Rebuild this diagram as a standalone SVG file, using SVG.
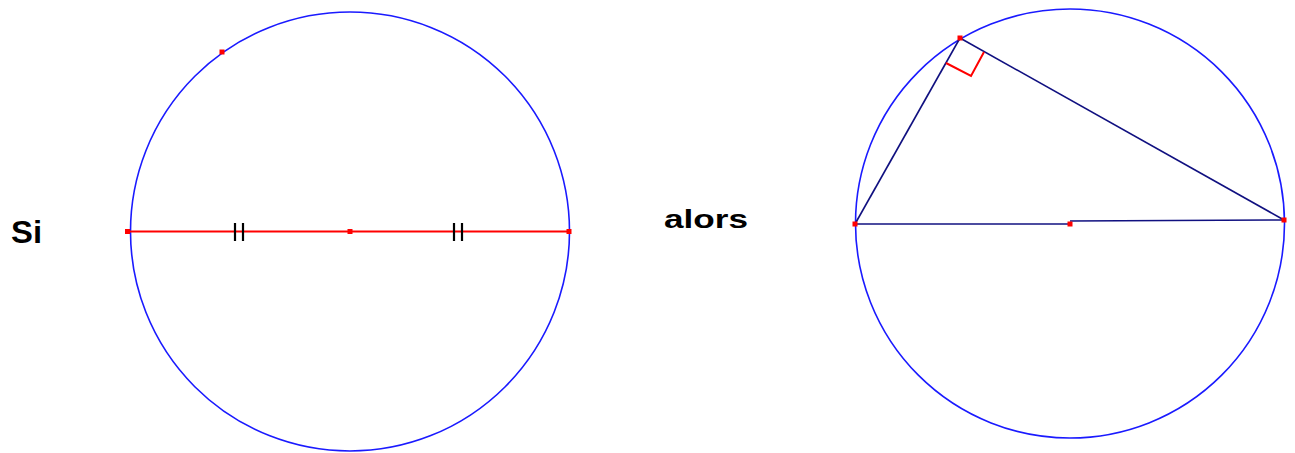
<svg xmlns="http://www.w3.org/2000/svg" width="1295" height="453" viewBox="0 0 1295 453">
<style>
.circ{fill:none;stroke:#1a1aff;stroke-width:1.6}
.red{stroke:#ff0000;stroke-width:2;fill:none}
.navy{stroke:#101080;stroke-width:1.6;fill:none}
.tick{stroke:#000;stroke-width:2.2}
.pt{fill:#ff0000}
.lbl{font-family:"Liberation Sans",Arial,sans-serif;font-weight:bold;fill:#000}
</style>
<rect width="1295" height="453" fill="#fff"/>
<g id="left-figure">
<circle class="circ" cx="350" cy="231.5" r="219.5"/>
<line class="red" x1="128" y1="231.5" x2="569" y2="231.5"/>
<g id="ticks1"><line class="tick" x1="235" y1="223" x2="235" y2="241"/><line class="tick" x1="243" y1="223" x2="243" y2="241"/></g>
<g id="ticks2"><line class="tick" x1="454" y1="223" x2="454" y2="241"/><line class="tick" x1="462" y1="223" x2="462" y2="241"/></g>
<rect class="pt" x="125" y="229" width="5" height="5"/>
<rect class="pt" x="347.5" y="229" width="5" height="5"/>
<rect class="pt" x="566.5" y="229" width="5" height="5"/>
<rect class="pt" x="219.5" y="49.5" width="5" height="5"/>
</g>
<g id="label-si"><text class="lbl" x="11" y="243" font-size="32" textLength="31" lengthAdjust="spacingAndGlyphs">Si</text></g>
<g id="label-alors"><text class="lbl" x="664" y="228" font-size="25" textLength="84" lengthAdjust="spacingAndGlyphs">alors</text></g>
<g id="right-figure">
<circle class="circ" cx="1070" cy="223.5" r="214.5"/>
<g id="connectors">
<line class="navy" x1="855" y1="224" x2="1070" y2="224"/>
<line class="navy" x1="1070" y1="221" x2="1284" y2="220"/>
<line class="navy" x1="855" y1="224" x2="960" y2="38"/>
<line class="navy" x1="960" y1="38" x2="1284" y2="220"/>
</g>
<polyline class="red" stroke-width="1.5" points="946,63 971,76 984,52"/>
<rect class="pt" x="957.5" y="35.5" width="5" height="5"/>
<rect class="pt" x="852.5" y="221.5" width="5" height="5"/>
<rect class="pt" x="1067.5" y="221.5" width="5" height="5"/>
<rect class="pt" x="1281.5" y="217.5" width="5" height="5"/>
</g>
</svg>
